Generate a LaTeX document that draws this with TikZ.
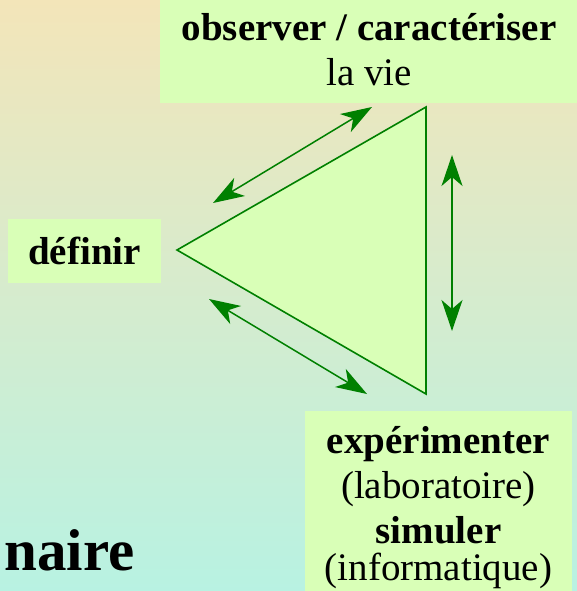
\documentclass[tikz,border=0pt]{standalone}
\usepackage{fontspec}
\setmainfont{Liberation Serif}
\usetikzlibrary{arrows.meta}
\usetikzlibrary{calc}

\definecolor{bgtop}{RGB}{243,229,185}
\definecolor{bgbottom}{RGB}{184,242,226}
\definecolor{cellgreen}{RGB}{217,255,183}
\definecolor{darkgreen}{RGB}{0,128,0}

\begin{document}
\begin{tikzpicture}[
    x=1pt, y=1pt,
    every node/.style={font=\fontsize{39}{45}\selectfont},
    cell/.style={fill=cellgreen, inner sep=0pt, align=center},
    tri/.style={draw=darkgreen, fill=cellgreen, line width=1.6pt, line join=miter},
    link/.style={{Stealth[length=31pt,width=21pt,inset=9pt]}-{Stealth[length=31pt,width=21pt,inset=9pt]}, draw=darkgreen, fill=darkgreen, line width=1.5pt}
]
\useasboundingbox (0,0) rectangle (577,-591);
\clip (0,0) rectangle (577,-591);
\shade[top color=bgtop, bottom color=bgbottom] (0,0) rectangle (577,-591);

\node[cell, minimum width=418pt, minimum height=106pt] (observe) at (369,-50) {\textbf{observer / caractériser}\\la vie};
\node[cell, minimum width=153pt, minimum height=64pt] (define) at (84.5,-251) {\textbf{définir}};
\node[cell, minimum width=267pt, minimum height=193pt] (experiment) at (438.5,-507.5) {\textbf{expérimenter}\\(laboratoire)\\\textbf{simuler}\\[-8pt](informatique)};
\node[anchor=base east, font=\fontsize{59}{64}\selectfont\bfseries] (title) at (138,-570) {naire};

\coordinate (left) at (177,-250);
\coordinate (top) at (426,-107);
\coordinate (bottom) at (426,-394);
\filldraw[tri] (left) -- (top) -- (bottom) -- cycle;

\coordinate (a1) at (213,-203);
\coordinate (a2) at (372,-107);
\coordinate (b1) at (209,-299);
\coordinate (b2) at (367,-394);
\coordinate (c1) at (452,-155);
\coordinate (c2) at (452,-331);

\draw[link] (a1) -- (a2);
\draw[link] (b1) -- (b2);
\draw[link] (c1) -- (c2);
\end{tikzpicture}
\end{document}
